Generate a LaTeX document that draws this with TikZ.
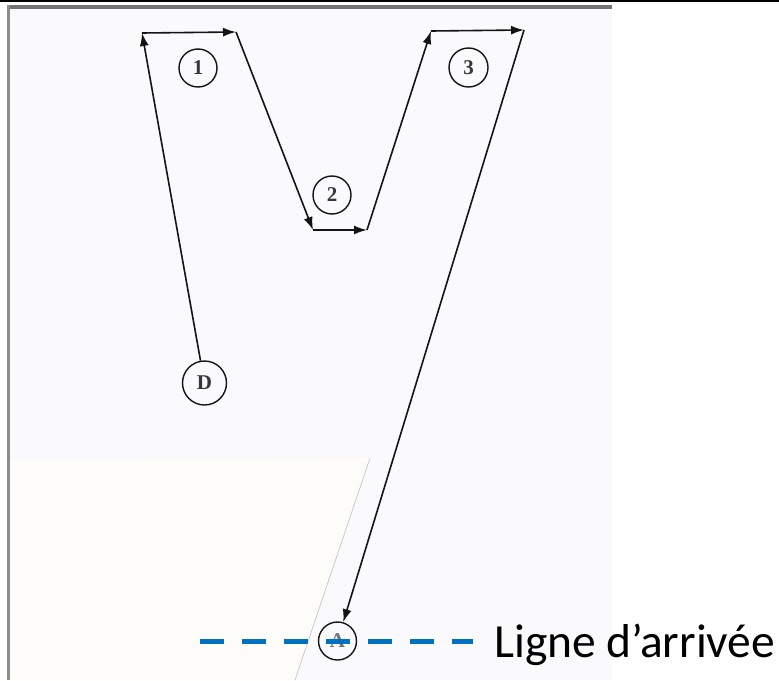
\documentclass[tikz,border=0pt]{standalone}
\usepackage{fontspec}
\newfontfamily\calfont{Carlito}
\newfontfamily\scanfont{Liberation Serif}
\usetikzlibrary{arrows.meta}
\definecolor{pagecol}{RGB}{250,250,253}
\definecolor{creamcol}{RGB}{253,252,248}
\definecolor{bluecol}{RGB}{0,112,192}
\definecolor{inkcol}{RGB}{20,20,20}
\begin{document}
\begin{tikzpicture}[x=1pt,y=-1pt,
  station/.style={circle,draw=inkcol,line width=1.4pt,inner sep=0pt,font=\scanfont\bfseries\fontsize{21}{21}\selectfont,text=inkcol!85},
  leg/.style={draw=inkcol,line width=1.6pt,-{Latex[length=13pt,width=9pt]}},
  finish/.style={draw=bluecol,line width=5pt,dash pattern=on 24pt off 18pt},
]
\useasboundingbox (0,0) rectangle (779,680);
\fill[white] (0,0) rectangle (779,680);
% scanned sheet
\fill[pagecol] (7,5) rectangle (612,680);
\fill[creamcol] (9,460) -- (370,458) -- (295,680) -- (9,680) -- cycle;
\draw[black!25,line width=0.6pt] (370,458) -- (295,680);
\fill[black!55] (7,5) rectangle (612,8.5);
\fill[black!45] (7,5) rectangle (9.5,680);
\fill[black] (0,0) rectangle (779,1.8);

% stations
\node[station,minimum size=38pt] (c1) at (198,68) {1};
\node[station,minimum size=38pt] (c2) at (332,195) {2};
\node[station,minimum size=39pt] (c3) at (468.5,67.5) {3};
\node[station,minimum size=44pt] (D) at (204.5,383) {D};
\node[station,minimum size=38pt,text=black!55] (A) at (337.5,641) {A};

% corners
\coordinate (p1) at (142,33);
\coordinate (p2) at (236,32);
\coordinate (p3) at (313,230);
\coordinate (p4) at (367,230);
\coordinate (p5) at (431,31);
\coordinate (p6) at (524,30);

\draw[leg] (D) -- (p1);
\draw[leg] (p1) -- (p2);
\draw[leg] (p2) -- (p3);
\draw[leg] (p3) -- (p4);
\draw[leg] (p4) -- (p5);
\draw[leg] (p5) -- (p6);
\draw[leg] (p6) -- (A);

% finish line
\coordinate (f1) at (200,641);
\coordinate (f2) at (473,641);
\draw[finish] (f1) -- (f2);
\node[anchor=base west,inner sep=0pt,font=\calfont\fontsize{47.5}{47.5}\selectfont] (lbl) at (494,657) {Ligne d’arrivée};
\end{tikzpicture}
\end{document}
